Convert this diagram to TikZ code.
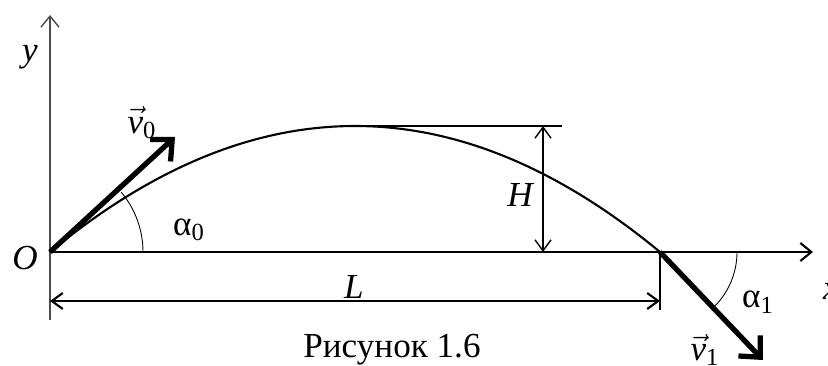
\documentclass[tikz,border=0pt]{standalone}
\usepackage{amsmath}
\usepackage{fontspec}
\setmainfont{Liberation Serif}
\usetikzlibrary{arrows.meta,calc}

\newcommand{\vel}[1]{$\vec{\text{\itshape v}}_{\text{#1}}$}

\begin{document}
\begin{tikzpicture}[x=0.02cm, y=0.02cm, font=\fontsize{20}{24}\selectfont,
  ax/.style={line width=1.2pt, -{Straight Barb[length=2.2mm, width=3.6mm]}},
  dim/.style={line width=0.8pt, {Straight Barb[length=2.2mm, width=3.2mm]}-{Straight Barb[length=2.2mm, width=3.2mm]}},
  vec/.style={line width=3pt, -{Straight Barb[length=3.2mm, width=6mm, line width=3pt]}},
  thin/.style={line width=0.5pt}]
\useasboundingbox (-50,-113) rectangle (778,252);
% points of the path
\coordinate (O) at (0,0);
\coordinate (B) at (610,0);
\coordinate (A) at (305,126);
\coordinate (ytop) at (0,237);
\coordinate (ybot) at (0,-68);
\coordinate (xend) at (763,0);
% axes
\draw[ax, line width=0.8pt, black!70] (ybot) -- (ytop);
\draw[ax] (O) -- (xend);
\node (ylab) at (-20,195) {\itshape y};
\node (olab) at (-25,-6) {\itshape O};
\node (xlab) at (781,-39) {\itshape x};
% trajectory
\draw[line width=1.2pt] (O) .. controls (203.3,168) and (406.7,168) .. (B);
% height
\coordinate (hend) at (512,126);
\draw[thin, line width=0.8pt] (A) -- (hend);
\coordinate (htop) at (493,126);
\coordinate (hbot) at (493,0);
\draw[dim] (htop) -- (hbot);
\node (hlab) at (470,57) {\itshape H};
% range
\coordinate (tick) at (610,-58);
\draw[line width=1pt] (B) -- (tick);
\coordinate (lleft) at (0,-49);
\coordinate (lright) at (610,-49);
\draw[dim, line width=1.2pt] (lleft) -- (lright);
\node (llab) at (304,-35) {\itshape L};
% velocities
\coordinate (v0end) at (125,115);
\coordinate (v1end) at (713,-108);
\draw[vec] (O) -- (v0end);
\draw[vec] (B) -- (v1end);
\node (v0lab) at (92,129) {\vel{0}};
\node (v1lab) at (655,-98) {\vel{1}};
% angles
\draw[thin] (93,0) arc (0:40:93);
\draw[thin] ($(B)+(77,0)$) arc (0:-46:77);
\node (a0lab) at (139,22) {α\textsubscript{0}};
\node (a1lab) at (708,-50) {α\textsubscript{1}};
% caption
\node (cap) at (342,-98) {Рисунок 1.6};
\end{tikzpicture}
\end{document}
